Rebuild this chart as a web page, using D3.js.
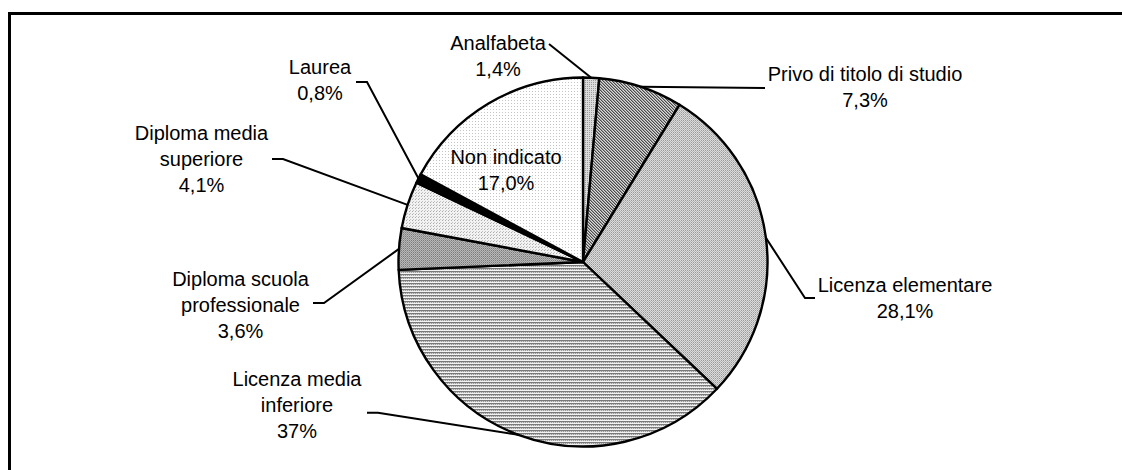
<!DOCTYPE html>
<html>
<head>
<meta charset="utf-8">
<script src="https://cdn.jsdelivr.net/npm/d3@7/dist/d3.min.js"></script>
<style>
  html, body { margin: 0; padding: 0; background: #fff; }
  svg { display: block; }
  text { font-family: "Liberation Sans", Arial, sans-serif; font-size: 20px; fill: #000; }
</style>
</head>
<body>
<script>
// Titolo di studio: share of each category (percent)
const categories = [
  "Analfabeta",
  "Privo di titolo di studio",
  "Licenza elementare",
  "Licenza media inferiore",
  "Diploma scuola professionale",
  "Diploma media superiore",
  "Laurea",
  "Non indicato"
];
const values = [1.4, 7.3, 28.1, 37, 3.6, 4.1, 0.8, 17.0];
const valueLabels = ["1,4%", "7,3%", "28,1%", "37%", "3,6%", "4,1%", "0,8%", "17,0%"];
const labelLines = [
  ["Analfabeta"],
  ["Privo di titolo di studio"],
  ["Licenza elementare"],
  ["Licenza media", "inferiore"],
  ["Diploma scuola", "professionale"],
  ["Diploma media", "superiore"],
  ["Laurea"],
  ["Non indicato"]
];

// Fill pattern ids, one per slice
const fills = ["p-analf", "p-privo", "p-elem", "p-inf", "p-prof", "p-sup", "solid-black", "p-non"];

// Label placement: box centre (cx, cy) and leader path start points (null = no leader)
const labelLayout = [
  { cx: 498, cy: 56,  lead: [[549, 44]] },
  { cx: 865, cy: 87,  lead: [[765, 88]] },
  { cx: 905, cy: 298, lead: [[815, 298], [805, 298]] },
  { cx: 297, cy: 405, lead: [[367, 412.7], [378, 412.7]] },
  { cx: 240.5, cy: 305, lead: [[313, 303], [324, 303]] },
  { cx: 201.5, cy: 158.5, lead: [[272, 159], [283, 159]] },
  { cx: 320, cy: 80,  lead: [[356, 82], [367, 82]] },
  { cx: 506, cy: 170, lead: null }
];

const W = 1122, H = 470;
const cx0 = 583, cy0 = 262, R = 184.5;
const lineGap = 26;

const svg = d3.select("body").append("svg").attr("width", W).attr("height", H);
const defs = svg.append("defs");

function pattern(id, w, h, bg, cells) {
  const p = defs.append("pattern").attr("id", id)
    .attr("patternUnits", "userSpaceOnUse").attr("width", w).attr("height", h);
  p.append("rect").attr("width", w).attr("height", h).attr("fill", bg);
  cells.forEach(c => p.append("rect").attr("x", c[0]).attr("y", c[1])
    .attr("width", c[2] || 1).attr("height", c[3] || 1).attr("fill", c[4]));
}
pattern("p-analf", 2, 2, "#dcdcdc", [[0, 0, 1, 1, "#9a9a9a"]]);
pattern("p-privo", 3, 3, "#dadada", [[0, 0, 1, 1, "#4a4a4a"], [1, 1, 1, 1, "#4a4a4a"], [2, 2, 1, 1, "#4a4a4a"], [1, 0, 1, 1, "#9a9a9a"], [2, 1, 1, 1, "#9a9a9a"], [0, 2, 1, 1, "#9a9a9a"]]);
pattern("p-elem", 2, 2, "#dcdcdc", [[0, 0, 1, 1, "#9a9a9a"], [1, 1, 1, 1, "#b4b4b4"]]);
pattern("p-inf", 2, 3, "#f2f2f2", [[0, 0, 2, 1, "#7a7a7a"], [0, 1, 1, 1, "#9c9c9c"], [1, 1, 1, 1, "#d4d4d4"]]);
pattern("p-prof", 2, 2, "#b8b8b8", [[0, 0, 1, 1, "#7c7c7c"], [1, 1, 1, 1, "#969696"]]);
pattern("p-sup", 3, 3, "#f2f2f2", [[0, 0, 1, 1, "#acacac"], [1, 2, 1, 1, "#c4c4c4"]]);
pattern("p-non", 3, 3, "#ffffff", [[0, 0, 1, 1, "#c4c4c4"]]);

const fillOf = i => fills[i] === "solid-black" ? "#000" : `url(#${fills[i]})`;

// Frame
svg.append("rect").attr("x", 9.5).attr("y", 13.5).attr("width", 2000).attr("height", 2000)
  .attr("fill", "none").attr("stroke", "#000").attr("stroke-width", 3);

const pie = d3.pie().sort(null).value(d => d)(values);
const arc = d3.arc().innerRadius(0).outerRadius(R);
const edge = d3.arc().innerRadius(R).outerRadius(R);

const g = svg.append("g").attr("transform", `translate(${cx0},${cy0})`);
g.selectAll("path.slice").data(pie).join("path")
  .attr("class", "slice")
  .attr("d", arc)
  .attr("fill", (d, i) => fillOf(i))
  .attr("stroke", "#000").attr("stroke-width", 2.4).attr("stroke-linejoin", "round");

// Leader lines: from label to the outer edge of the slice at its mid angle
pie.forEach((d, i) => {
  const L = labelLayout[i];
  if (!L.lead) return;
  const [ex, ey] = edge.centroid(d);
  const pts = L.lead.concat([[ex + cx0, ey + cy0]]);
  svg.append("path")
    .attr("d", d3.line()(pts))
    .attr("fill", "none").attr("stroke", "#000").attr("stroke-width", 2);
});

// Labels
categories.forEach((c, i) => {
  const L = labelLayout[i];
  const lines = labelLines[i].concat([valueLabels[i]]);
  const n = lines.length;
  const t = svg.append("text").attr("text-anchor", "middle");
  lines.forEach((s, k) => {
    t.append("tspan").attr("x", L.cx)
      .attr("y", L.cy + (k - (n - 1) / 2) * lineGap + 7)
      .text(s);
  });
});
</script>
</body>
</html>
